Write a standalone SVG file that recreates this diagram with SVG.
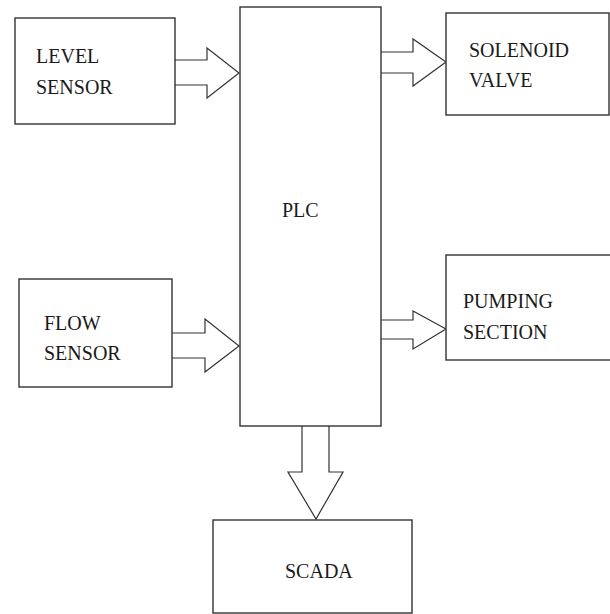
<svg xmlns="http://www.w3.org/2000/svg" width="610" height="614" viewBox="0 0 610 614">
<style>
.box{fill:#fff;stroke:#333;stroke-width:1.4}
.arr{fill:#fff;stroke:#333;stroke-width:1.2;stroke-linejoin:miter}
.t{font-family:'Liberation Serif','DejaVu Serif',serif;font-size:20px;fill:#1a1a1a}
</style>
<rect width="610" height="614" fill="#fff"/>
<g id="connectors">
<path class="arr" d="M175,60 H207 V48 L239,73 L207,98 V85 H175"/>
<path class="arr" d="M172,333 H205 V319 L239,346 L205,372 V358 H172"/>
<path class="arr" d="M381,52 H413 V39 L446,62 L413,86 V73 H381"/>
<path class="arr" d="M381,320 H413 V311 L446,329 L413,349 V339 H381"/>
<path class="arr" d="M302,426 V472 H288 L316,519 L343,472 H329 V426"/>
</g>
<g id="plc">
<rect class="box" x="240" y="7" width="141" height="419"/>
<text class="t" font-family="Liberation Serif" x="282" y="217">PLC</text>
</g>
<g id="level-sensor">
<rect class="box" x="15" y="18" width="160" height="106"/>
<text class="t" font-family="Liberation Serif" x="36" y="63">LEVEL</text>
<text class="t" font-family="Liberation Serif" x="36" y="94">SENSOR</text>
</g>
<g id="flow-sensor">
<rect class="box" x="19" y="279" width="153" height="108"/>
<text class="t" font-family="Liberation Serif" x="44" y="330">FLOW</text>
<text class="t" font-family="Liberation Serif" x="44" y="360">SENSOR</text>
</g>
<g id="solenoid-valve">
<rect class="box" x="446" y="13" width="163" height="102"/>
<text class="t" font-family="Liberation Serif" x="469" y="57">SOLENOID</text>
<text class="t" font-family="Liberation Serif" x="469" y="87">VALVE</text>
</g>
<g id="pumping-section">
<rect class="box" x="446" y="255" width="170" height="105"/>
<text class="t" font-family="Liberation Serif" x="463" y="308">PUMPING</text>
<text class="t" font-family="Liberation Serif" x="463" y="339">SECTION</text>
</g>
<g id="scada">
<rect class="box" x="213" y="520" width="199" height="93"/>
<text class="t" font-family="Liberation Serif" x="285" y="578">SCADA</text>
</g>
</svg>
